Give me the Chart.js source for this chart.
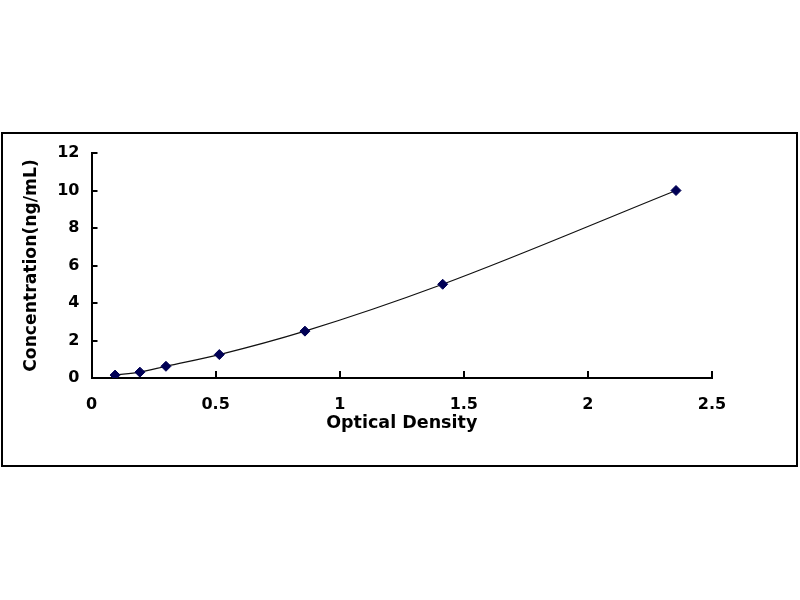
<!DOCTYPE html>
<html>
<head>
<meta charset="utf-8">
<script src="https://cdn.jsdelivr.net/npm/chart.js@4"></script>
<style>
  html, body { margin: 0; padding: 0; background: #fff; }
  #wrap { width: 800px; height: 600px; position: relative; }
</style>
</head>
<body>
<div id="wrap"><canvas id="c" width="800" height="600"></canvas></div>
<script>
const odValues = [0.095, 0.195, 0.30, 0.515, 0.86, 1.415, 2.355];
const concValues = [0.156, 0.312, 0.625, 1.25, 2.5, 5, 10];
const xTitle = 'Optical Density';
const yTitle = 'Concentration(ng/mL)';
const xTicks = [0, 0.5, 1, 1.5, 2, 2.5];
const yTicks = [0, 2, 4, 6, 8, 10, 12];

const points = odValues.map((x, i) => ({ x: x, y: concValues[i] }));
const FONT = "'DejaVu Sans', Arial, sans-serif";

const decor = {
  id: 'decor',
  beforeDraw(chart) {
    const ctx = chart.ctx;
    ctx.save();
    ctx.fillStyle = '#fff';
    ctx.fillRect(0, 0, chart.width, chart.height);
    ctx.strokeStyle = '#000';
    ctx.lineWidth = 2;
    ctx.strokeRect(2, 133, 795, 333);
    ctx.restore();
  },
  afterDraw(chart) {
    const ctx = chart.ctx;
    const xs = chart.scales.x, ys = chart.scales.y;
    ctx.save();
    ctx.strokeStyle = '#000';
    ctx.lineWidth = 2;
    const y0 = ys.getPixelForValue(0);
    const x0 = xs.getPixelForValue(0);
    ctx.beginPath();
    xTicks.forEach(v => {
      const px = Math.round(xs.getPixelForValue(v));
      ctx.moveTo(px, y0);
      ctx.lineTo(px, y0 - 7);
    });
    yTicks.forEach(v => {
      const py = Math.round(ys.getPixelForValue(v));
      ctx.moveTo(x0, py);
      ctx.lineTo(x0 + 6, py);
    });
    ctx.stroke();
    ctx.restore();
  }
};

new Chart(document.getElementById('c'), {
  type: 'scatter',
  data: {
    datasets: [{
      data: points,
      showLine: true,
      borderColor: '#111',
      borderWidth: 1.2,
      cubicInterpolationMode: 'monotone',
      pointStyle: 'rectRot',
      pointRadius: 5,
      pointBackgroundColor: '#000055',
      pointBorderColor: '#000055',
      pointBorderWidth: 1
    }]
  },
  options: {
    responsive: false,
    animation: false,
    devicePixelRatio: 1,
    layout: { padding: { left: 21, right: 88, top: 153, bottom: 166 } },
    plugins: { legend: { display: false }, tooltip: { enabled: false } },
    scales: {
      x: {
        type: 'linear',
        min: 0, max: 2.5,
        afterBuildTicks(s) { s.ticks = xTicks.map(v => ({ value: v })); },
        afterFit(s) { s.height = 56; },
        grid: { display: false, drawTicks: false },
        border: { display: true, color: '#000', width: 2 },
        ticks: {
          padding: 17,
          color: '#000',
          font: { family: FONT, size: 16, weight: 'bold' },
          maxRotation: 0,
          callback: v => String(v)
        },
        title: {
          display: true, text: xTitle, color: '#000', padding: 0,
          font: { family: FONT, size: 17.5, weight: 'bold' }
        }
      },
      y: {
        type: 'linear',
        min: 0, max: 12,
        afterBuildTicks(s) { s.ticks = yTicks.map(v => ({ value: v })); },
        afterFit(s) { s.width = 70.5; },
        grid: { display: false, drawTicks: false },
        border: { display: true, color: '#000', width: 2 },
        ticks: {
          padding: 12,
          color: '#000',
          font: { family: FONT, size: 16, weight: 'bold' },
          callback: v => String(v)
        },
        title: {
          display: true, text: yTitle, color: '#000', padding: 0,
          font: { family: FONT, size: 17.2, weight: 'bold' }
        }
      }
    }
  },
  plugins: [decor]
});
</script>
</body>
</html>
